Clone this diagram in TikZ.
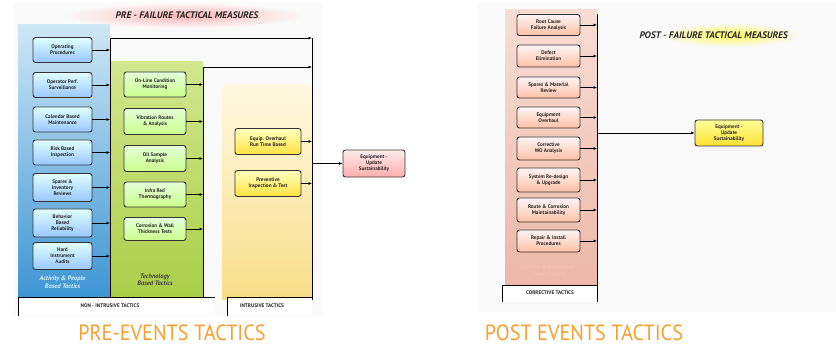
\documentclass[tikz,border=0pt]{standalone}
\usepackage{fontspec}
\setmainfont{PT Sans}
\usetikzlibrary{arrows.meta}
\definecolor{capor}{HTML}{F7A030}
\definecolor{bluetop}{HTML}{CFE7F5}
\definecolor{bluebot}{HTML}{3E95D4}
\definecolor{greentop}{HTML}{D2E68E}
\definecolor{greenbot}{HTML}{AACF48}
\definecolor{yeltop}{HTML}{FFF9E0}
\definecolor{yelbot}{HTML}{F8DD88}
\definecolor{pinktop}{HTML}{F8DDD4}
\definecolor{pinkbot}{HTML}{EDB8A8}
\begin{document}
\begin{tikzpicture}[x=1pt,y=-1pt,
  boxbase/.style={draw=black!80,line width=0.9pt,rounded corners=2.5pt,align=center,
    font=\fontsize{5.2}{5.9}\selectfont\bfseries,text=black!85,inner sep=1pt},
  bluebox/.style={boxbase,top color=cyan!12,bottom color=cyan!45!blue!40,minimum width=59pt},
  greenbox/.style={boxbase,top color=yellow!30!green!15,bottom color=yellow!55!green!45,minimum width=62pt},
  yellowbox/.style={boxbase,top color=yellow!25,bottom color=yellow!70!orange!75,minimum width=66pt},
  pinkbox/.style={boxbase,top color=red!4,bottom color=red!40!orange!35,minimum width=63pt},
  conn/.style={draw=black,line width=0.8pt},
  arr/.style={conn,-{Latex[length=3.5pt,width=3pt]}},
  ttl/.style={font=\fontsize{9.5}{11}\selectfont\bfseries\itshape,text=black!85},
  tagtxt/.style={font=\fontsize{5.2}{6}\selectfont\bfseries,text=black!85},
  captxt/.style={font=\fontsize{22}{24}\selectfont,text=capor,inner sep=0pt}
]
\useasboundingbox (0,0) rectangle (836,347);
\fill[white] (0,0) rectangle (836,347);
% backgrounds
\fill[gray!4] (14,2) rectangle (322,316);
\fill[gray!5] (478,3) rectangle (836,312);
\shade[inner color=red!30,outer color=gray!4] (65,3) rectangle (305,28);
\shade[inner color=yellow!65,outer color=gray!5] (660,23) rectangle (800,47);
% columns
\shade[top color=bluetop,bottom color=bluebot] (18,25) rectangle (110,297);
\shade[top color=greentop,bottom color=greenbot] (110,62) rectangle (203,297);
\shade[top color=yeltop,bottom color=yelbot] (222,85) rectangle (312,300);
\shade[top color=pinktop,bottom color=pinkbot] (505,10) rectangle (597,285);
\fill[white] (18,297) rectangle (215,315);
\fill[white] (227,297) rectangle (312,315);
\fill[white] (502,285) rectangle (597,302);

% titles
\node[ttl] (t1) at (187,15) {PRE - FAILURE TACTICAL MEASURES};
\node[ttl,anchor=west] (t2) at (636,35) {POST - FAILURE TACTICAL MEASURES};

% blue boxes
\node[bluebox,minimum height=25pt] (b1) at (62.5,50) {Operating\\Procedures};
\node[bluebox,minimum height=25pt] (b2) at (62.5,85) {Operator Perf.\\Surveillance};
\node[bluebox,minimum height=25pt] (b3) at (62.5,119.5) {Calendar Based\\Maintenance};
\node[bluebox,minimum height=25pt] (b4) at (62.5,152.5) {Risk Based\\Inspection};
\node[bluebox,minimum height=28pt] (b5) at (62.5,187.5) {Spares \&\\Inventory\\Reviews};
\node[bluebox,minimum height=28pt] (b6) at (62.5,223) {Behavior\\Based\\Reliability};
\node[bluebox,minimum height=27pt] (b7) at (62.5,256) {Hard\\Instrument\\Audits};
\node[font=\fontsize{6.5}{7.5}\selectfont\bfseries\itshape,text=cyan!15,align=center] (bl) at (62.5,282) {Activity \& People\\Based Tactics};

% green boxes
\node[greenbox,minimum height=25pt] (g1) at (155,84.5) {On-Line Condition\\Monitoring};
\node[greenbox,minimum height=26pt] (g2) at (155,121.5) {Vibration Routes\\\& Analysis};
\node[greenbox,minimum height=26pt] (g3) at (155,158.5) {Oil Sample\\Analysis};
\node[greenbox,minimum height=25pt] (g4) at (155,194.5) {Infra Red\\Thermography};
\node[greenbox,minimum height=23pt] (g5) at (155,229) {Corrosion \& Wall\\Thickness Tests};
\node[font=\fontsize{6.5}{7.5}\selectfont\bfseries\itshape,text=black!75,align=center] (gl) at (155,280) {Technology\\Based Tactics};

% yellow boxes
\node[yellowbox,minimum height=26pt] (y1) at (268,141.5) {Equip. Overhaul\\Run Time Based};
\node[yellowbox,minimum height=26pt] (y2) at (268,183.5) {Preventive\\Inspection \& Test};
\node[boxbase,top color=red!8,bottom color=red!32,minimum width=62pt,minimum height=27pt] (eq1) at (374,163.5) {Equipment -\\Update\\Sustainability};

% bottom tags left
\node[tagtxt] (n1) at (110,306) {NON - INTRUSIVE TACTICS};
\node[tagtxt] (n2) at (262,306) {INTRUSIVE TACTICS};

% trunks left
\coordinate (bt) at (110,0);
\coordinate (gt) at (203,0);
\coordinate (yt) at (312,0);
\coordinate (btTop) at (110,38);
\coordinate (btBot) at (110,297);
\coordinate (gtTop) at (203,67);
\coordinate (gtBot) at (203,297);
\coordinate (ytTop) at (312,38);
\coordinate (ytMid) at (312,67);
\coordinate (ytBot) at (312,300);
\coordinate (ytOut) at (312,163.5);
\draw[arr] (btBot) -- (btTop) -- (ytTop);
\draw[arr] (gtBot) -- (gtTop) -- (ytMid);
\draw[conn] (ytTop) -- (ytBot);
\draw[conn] (18,316) -- (18,297) -- (215,297);
\draw[conn] (227,316) -- (227,297) -- (312,297);
\foreach \n in {b1,b2,b3,b4,b5,b6,b7} \draw[arr] (\n.east) -- (\n.east -| bt);
\foreach \n in {g1,g2,g3,g4,g5} \draw[arr] (\n.east) -- (\n.east -| gt);
\foreach \n in {y1,y2} \draw[arr] (\n.east) -- (\n.east -| yt);
\draw[arr] (ytOut) -- (eq1.west);

% right panel boxes
\node[pinkbox,minimum height=21pt] (p1) at (548.5,25) {Root Cause\\Failure Analysis};
\node[pinkbox,minimum height=22pt] (p2) at (548.5,56) {Defect\\Elimination};
\node[pinkbox,minimum height=21pt] (p3) at (548.5,87.5) {Spares \& Material\\Review};
\node[pinkbox,minimum height=21pt] (p4) at (548.5,117.5) {Equipment\\Overhaul};
\node[pinkbox,minimum height=23pt] (p5) at (548.5,148.5) {Corrective\\WO Analysis};
\node[pinkbox,minimum height=24pt] (p6) at (548.5,180) {System Re-design\\\& Upgrade};
\node[pinkbox,minimum height=24pt] (p7) at (548.5,210) {Route \& Corrosion\\Maintainability};
\node[pinkbox,minimum height=22pt] (p8) at (548.5,241) {Repair \& Install\\Procedures};
\node[font=\fontsize{6}{7}\selectfont\itshape,text=red!25,align=center] (pl) at (548.5,271) {Failure \& Breakdown\\Driven Tactics};
\node[tagtxt] (n3) at (550,293) {CORRECTIVE TACTICS};
\node[boxbase,top color=yellow!40,bottom color=yellow!70!orange!80,minimum width=68pt,minimum height=26pt] (eq2) at (729,133) {Equipment -\\Update\\Sustainability};

\coordinate (pt) at (597,0);
\coordinate (ptTop) at (597,14);
\coordinate (ptBot) at (597,302);
\coordinate (ptOut) at (597,133);
\draw[conn] (ptTop) -- (ptBot);
\draw[conn] (502,302) -- (502,285) -- (597,285);
\foreach \n in {p1,p2,p3,p4,p5,p6,p7,p8} \draw[arr] (\n.east) -- (\n.east -| pt);
\draw[arr] (ptOut) -- (eq2.west);

% captions
\node[captxt] (c1) at (172,333) {\scalebox{0.92}[1]{PRE-EVENTS TACTICS}};
\node[captxt] (c2) at (584,333) {\scalebox{0.92}[1]{POST EVENTS TACTICS}};
\end{tikzpicture}
\end{document}
